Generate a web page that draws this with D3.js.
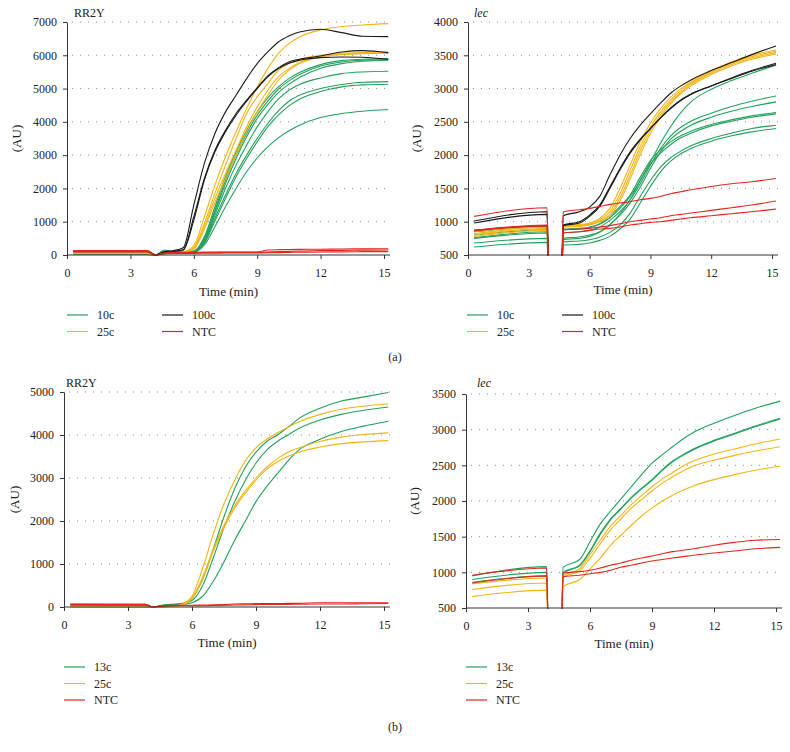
<!DOCTYPE html>
<html>
<head>
<meta charset="utf-8">
<script src="https://cdn.jsdelivr.net/npm/d3@7"></script>
<style>
  body { margin: 0; background: #fff; }
  svg { display: block; }
</style>
</head>
<body>
<svg id="chart" width="790" height="752" style="font-family: 'Liberation Serif', 'DejaVu Serif', serif;"></svg>
<script>
// sample times (min)
const timesRR = [0.3, 3.8, 4.2, 4.6, 5.0, 5.5, 6.0, 6.5, 7.0, 7.5, 8.0, 8.5, 9.0, 9.5, 10, 10.5, 11, 12, 13, 14, 15.2];
const timesLec = [0.3, 3.9, 4.0, 4.6, 4.7, 5.5, 6.0, 6.5, 7.0, 7.5, 8.0, 8.5, 9.0, 9.5, 10, 10.5, 11, 12, 13, 14, 15.2];

// (a) RR2Y
const rrA_10c = [
  [40,40,0,150,100,100, 120,550,1450,2350,3100,3750,4300,4720,5050,5300,5480,5720,5840,5880,5900],
  [40,40,0,120,90,90, 110,500,1350,2250,3000,3650,4200,4620,4980,5230,5420,5680,5800,5850,5870],
  [30,30,0,100,80,90, 100,460,1280,2150,2900,3550,4100,4520,4880,5130,5330,5610,5750,5820,5850],
  [30,30,0,90,80,80, 100,420,1200,2000,2700,3300,3850,4300,4680,4950,5120,5320,5450,5500,5520],
  [20,20,0,80,70,80, 90,380,1100,1800,2450,3000,3500,3950,4330,4620,4800,5000,5120,5190,5210],
  [20,20,0,80,70,70, 90,350,1020,1700,2350,2900,3400,3850,4200,4480,4680,4910,5050,5110,5130],
  [20,20,0,70,60,70, 80,300,850,1450,2000,2500,2920,3250,3520,3730,3900,4130,4250,4320,4370]
];
const rrA_25c = [
  [60,60,0,50,80,100, 280,1150,2100,2950,3700,4400,5050,5600,6050,6350,6550,6760,6860,6910,6950],
  [50,50,0,50,70,90, 230,950,1850,2700,3500,4250,4750,5150,5550,5750,5880,6000,6060,6080,6100],
  [50,50,0,40,60,80, 200,850,1700,2450,3150,3850,4450,4950,5350,5600,5780,5950,6020,6050,6060],
  [40,40,0,40,60,80, 170,780,1580,2300,3000,3700,4300,4800,5250,5550,5750,5950,6030,6060,6070]
];
const rrA_100c = [
  [120,120,0,100,130,220, 1500,2750,3650,4300,4800,5300,5750,6100,6400,6580,6700,6780,6680,6570,6560],
  [110,110,0,80,110,160, 1150,2300,3150,3750,4250,4650,5020,5380,5620,5800,5880,5980,6100,6140,6080],
  [100,100,0,80,100,150, 1050,2250,3100,3700,4200,4620,5000,5350,5600,5760,5850,5930,5950,5940,5880]
];
const rrA_NTC = [
  [130,130,0,60,80,80, 80,85,85,90,90,90,90,150,160,165,170,175,180,185,190],
  [110,110,0,50,70,70, 70,75,75,80,80,80,80,90,100,110,120,130,140,145,150],
  [90,90,0,40,50,50, 50,55,55,60,60,60,60,70,70,80,85,90,95,100,100]
];

// (a) lec
const lecA_10c = [
  [850,920,0,0,880,890,910,960,1060,1200,1380,1620,1900,2180,2430,2640,2800,2990,3120,3230,3350],
  [800,880,0,0,830,850,870,920,1020,1150,1330,1570,1850,2100,2290,2420,2510,2630,2730,2810,2890],
  [760,850,0,0,750,770,800,850,960,1100,1280,1520,1800,2050,2240,2360,2450,2570,2660,2730,2800],
  [870,930,0,0,890,900,920,970,1080,1230,1400,1670,1920,2080,2200,2290,2360,2460,2530,2590,2640],
  [750,830,0,0,730,750,780,840,950,1120,1330,1620,1870,2030,2160,2260,2330,2440,2510,2570,2620],
  [680,750,0,0,700,710,730,770,840,950,1130,1380,1620,1820,1960,2060,2140,2250,2330,2400,2450],
  [620,690,0,0,650,660,680,720,780,890,1040,1280,1530,1750,1910,2020,2100,2210,2290,2350,2400]
];
const lecA_25c = [
  [800,900,0,0,950,960,980,1050,1200,1500,1850,2200,2480,2700,2870,3000,3100,3270,3400,3500,3580],
  [820,920,0,0,940,950,970,1030,1150,1420,1770,2130,2420,2650,2830,2970,3080,3250,3380,3480,3560],
  [850,930,0,0,930,940,960,1010,1110,1360,1700,2070,2370,2610,2800,2940,3060,3230,3360,3460,3540],
  [780,870,0,0,920,930,950,1000,1080,1310,1640,2010,2320,2570,2770,2920,3040,3210,3340,3440,3520]
];
const lecA_100c = [
  [1010,1150,0,0,1090,1150,1220,1380,1700,2000,2250,2450,2620,2780,2930,3040,3130,3270,3390,3510,3640],
  [980,1110,0,0,950,1000,1100,1250,1520,1800,2050,2240,2400,2560,2710,2830,2920,3040,3150,3260,3360],
  [870,940,0,0,940,980,1080,1230,1500,1780,2030,2230,2400,2560,2700,2820,2910,3040,3160,3270,3380]
];
const lecA_NTC = [
  [1080,1210,0,0,1150,1180,1200,1230,1260,1280,1300,1330,1350,1380,1420,1450,1480,1530,1570,1600,1650],
  [870,950,0,0,880,890,900,920,940,970,1000,1020,1040,1060,1090,1110,1130,1170,1210,1250,1310],
  [860,940,0,0,830,850,870,890,900,920,950,970,990,1000,1020,1040,1060,1090,1120,1150,1190]
];

// (b) RR2Y
const rrB_13c = [
  [70,60,0,40,60,80, 200,650,1350,2100,2750,3250,3600,3850,4000,4180,4380,4620,4790,4880,4990],
  [60,50,0,40,50,70, 150,500,1150,1850,2450,2950,3350,3650,3850,4000,4150,4350,4480,4570,4650],
  [50,50,0,30,50,60, 100,250,600,1050,1550,2000,2450,2800,3100,3400,3650,3900,4080,4200,4320]
];
const rrB_25c = [
  [0,0,0,0,10,60, 250,900,1700,2400,2950,3400,3700,3900,4050,4180,4300,4480,4600,4670,4720],
  [0,0,0,0,10,50, 200,700,1350,1900,2350,2700,3000,3250,3450,3600,3700,3850,3950,4010,4050],
  [0,0,0,0,10,40, 200,650,1300,1850,2300,2650,2950,3200,3380,3500,3600,3720,3800,3840,3870]
];
const rrB_NTC = [
  [60,60,0,30,40,40, 40,45,50,55,70,75,80,80,80,85,85,100,100,100,100],
  [40,40,0,20,30,30, 30,30,35,40,45,50,55,60,60,60,65,70,70,75,80]
];

// (b) lec
const lecB_13c = [
  [950,1080,0,0,1070,1180,1430,1680,1860,2030,2200,2370,2530,2650,2760,2870,2960,3090,3200,3300,3400],
  [900,1000,0,0,1000,1100,1300,1550,1750,1900,2050,2180,2300,2440,2560,2650,2730,2850,2950,3050,3160],
  [860,950,0,0,990,1090,1290,1530,1740,1890,2040,2170,2290,2430,2550,2640,2720,2840,2940,3040,3150]
];
const lecB_25c = [
  [840,920,0,0,950,1050,1250,1450,1650,1800,1950,2080,2200,2310,2400,2490,2560,2660,2730,2800,2870],
  [760,850,0,0,930,1020,1200,1400,1600,1750,1900,2020,2140,2250,2340,2420,2490,2570,2640,2700,2760],
  [660,750,0,0,800,900,1050,1200,1380,1520,1660,1790,1900,2000,2080,2150,2210,2300,2370,2430,2490]
];
const lecB_NTC = [
  [960,1060,0,0,990,1010,1030,1060,1100,1130,1170,1200,1230,1260,1290,1310,1330,1380,1420,1450,1460],
  [850,950,0,0,940,960,980,1000,1030,1070,1100,1130,1160,1180,1200,1220,1240,1270,1300,1330,1350]
];

const xTicks = [0, 3, 6, 9, 12, 15];
const colors = { "10c": "#22a05b", "13c": "#22a05b", "25c": "#f2b515", "100c": "#1a1a1a", "NTC": "#e3261e" };
const font = "'Liberation Serif', 'DejaVu Serif', serif";

const panels = [
  { title: "RR2Y", italic: false, times: timesRR, yDomain: [0, 7000], yTicks: d3.range(0, 7001, 1000),
    x0: 67, x1: 384, yTop: 22, yBot: 255, titleX: 74, titleY: 17, auX: 21, timeY: 296,
    series: [["10c", rrA_10c], ["25c", rrA_25c], ["100c", rrA_100c], ["NTC", rrA_NTC]],
    legend: [["10c", 0, 0], ["25c", 0, 1], ["100c", 1, 0], ["NTC", 1, 1]], legX: [67, 162], legY: 315 },
  { title: "lec", italic: true, times: timesLec, yDomain: [500, 4000], yTicks: d3.range(500, 4001, 500),
    x0: 468, x1: 772, yTop: 22, yBot: 255, titleX: 474, titleY: 17, auX: 421, timeY: 294,
    series: [["10c", lecA_10c], ["25c", lecA_25c], ["100c", lecA_100c], ["NTC", lecA_NTC]],
    legend: [["10c", 0, 0], ["25c", 0, 1], ["100c", 1, 0], ["NTC", 1, 1]], legX: [467, 562], legY: 315 },
  { title: "RR2Y", italic: false, times: timesRR, yDomain: [0, 5000], yTicks: d3.range(0, 5001, 1000),
    x0: 64, x1: 384, yTop: 392, yBot: 607, titleX: 66, titleY: 387, auX: 19, timeY: 647,
    series: [["13c", rrB_13c], ["25c", rrB_25c], ["NTC", rrB_NTC]],
    legend: [["13c", 0, 0], ["25c", 0, 1], ["NTC", 0, 2]], legX: [64], legY: 667 },
  { title: "lec", italic: true, times: timesLec, yDomain: [500, 3500], yTicks: d3.range(500, 3501, 500),
    x0: 466, x1: 776, yTop: 394, yBot: 608, titleX: 477, titleY: 387, auX: 419, timeY: 648,
    series: [["13c", lecB_13c], ["25c", lecB_25c], ["NTC", lecB_NTC]],
    legend: [["13c", 0, 0], ["25c", 0, 1], ["NTC", 0, 2]], legX: [466], legY: 667 }
];

const svg = d3.select("#chart");

panels.forEach((p, pi) => {
  const g = svg.append("g");
  const x = d3.scaleLinear().domain([0, 15]).range([p.x0, p.x1]);
  const y = d3.scaleLinear().domain(p.yDomain).range([p.yBot, p.yTop]);

  // dotted grid
  g.selectAll("line.grid").data(p.yTicks.slice(1)).join("line")
    .attr("class", "grid")
    .attr("x1", p.x0 + 5).attr("x2", p.x1 + 6)
    .attr("y1", d => y(d)).attr("y2", d => y(d))
    .attr("stroke", "#8a8a8a").attr("stroke-width", 1)
    .attr("stroke-dasharray", "1,7");

  const clipId = "clip" + pi;
  svg.append("clipPath").attr("id", clipId).append("rect")
    .attr("x", p.x0).attr("y", p.yTop - 6)
    .attr("width", p.x1 - p.x0 + 12).attr("height", p.yBot - p.yTop + 7);

  const line = d3.line()
    .x((d, i) => x(p.times[i]))
    .y(d => y(d))
    .curve(d3.curveMonotoneX);

  const lg = g.append("g").attr("clip-path", `url(#${clipId})`);
  p.series.forEach(([name, curves]) => {
    lg.selectAll(null).data(curves).join("path")
      .attr("d", line)
      .attr("fill", "none")
      .attr("stroke", colors[name])
      .attr("stroke-width", 1.1);
  });

  // axes
  const gx = g.append("g").attr("transform", `translate(0,${p.yBot})`)
    .call(d3.axisBottom(x).tickValues(xTicks).tickSize(4).tickPadding(9).tickSizeOuter(0));
  gx.select(".domain").remove();
  gx.append("line").attr("x1", p.x0).attr("x2", p.x1 + 6).attr("stroke", "#333");

  const gy = g.append("g").attr("transform", `translate(${p.x0},0)`)
    .call(d3.axisLeft(y).tickValues(p.yTicks).tickFormat(d3.format("d"))
      .tickSize(4).tickPadding(6).tickSizeOuter(0));
  [gx, gy].forEach(a => a.attr("font-size", 12).attr("font-family", font));
  g.selectAll(".domain, .tick line").attr("stroke", "#333");
  g.selectAll(".tick text").attr("fill", "#222");

  // labels
  g.append("text").attr("x", p.titleX).attr("y", p.titleY)
    .attr("font-family", font).attr("font-size", 12)
    .attr("font-style", p.italic ? "italic" : null).attr("fill", "#222")
    .text(p.title);
  g.append("text")
    .attr("transform", `translate(${p.auX},${(p.yTop + p.yBot) / 2}) rotate(-90)`)
    .attr("text-anchor", "middle").attr("font-family", font).attr("font-size", 13).attr("fill", "#222")
    .text("(AU)");
  g.append("text").attr("x", (p.x0 + p.x1) / 2 + 3).attr("y", p.timeY)
    .attr("text-anchor", "middle").attr("font-family", font).attr("font-size", 13).attr("fill", "#222")
    .text("Time (min)");

  // legend
  const leg = g.selectAll("g.leg").data(p.legend).join("g")
    .attr("class", "leg")
    .attr("transform", d => `translate(${p.legX[d[1]]},${p.legY + d[2] * 16.5})`);
  leg.append("line").attr("x1", 0).attr("x2", 21)
    .attr("stroke", d => colors[d[0]]).attr("stroke-width", 1.2);
  leg.append("text").attr("x", 30).attr("y", 4)
    .attr("font-family", font).attr("font-size", 12).attr("fill", "#222")
    .text(d => d[0]);
});

svg.append("text").attr("x", 395).attr("y", 361).attr("text-anchor", "middle")
  .attr("font-family", font).attr("font-size", 12).attr("fill", "#222").text("(a)");
svg.append("text").attr("x", 395).attr("y", 731).attr("text-anchor", "middle")
  .attr("font-family", font).attr("font-size", 12).attr("fill", "#222").text("(b)");
</script>
</body>
</html>
